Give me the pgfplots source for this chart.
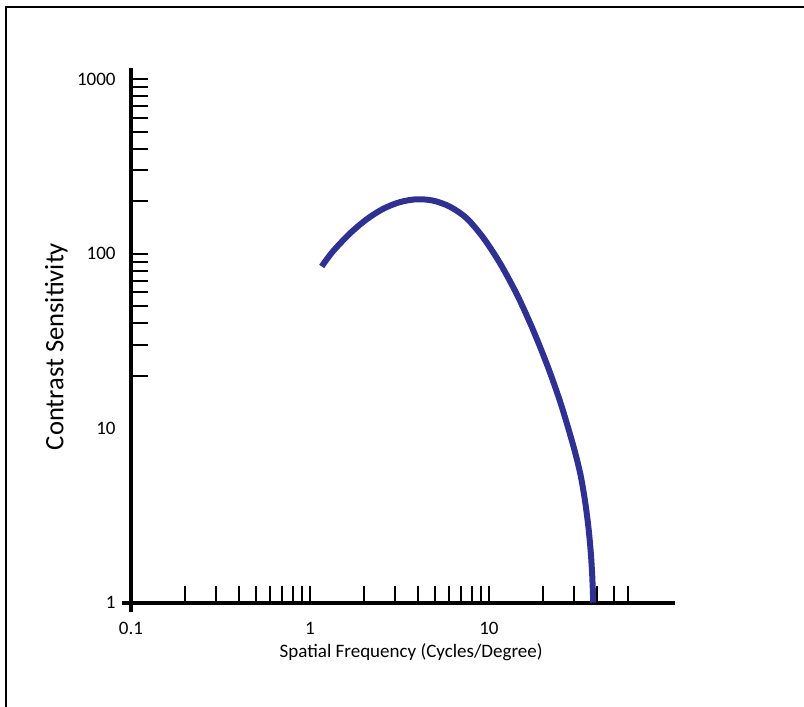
\documentclass[border=0pt]{standalone}
\usepackage{pgfplots}
\pgfplotsset{compat=1.18}
\usepackage{fontspec}
\setmainfont{Carlito}
\definecolor{csfblue}{RGB}{46,49,146}
\begin{document}
\begin{tikzpicture}
\path[use as bounding box] (0,0) rectangle (402pt,353.5pt);
\draw[line width=1pt] (3pt,0) -- (3pt,350pt) -- (402pt,350pt);
\begin{axis}[
  at={(65.5pt,52.15pt)}, anchor=south west,
  scale only axis, width=272pt, height=267.35pt,
  xmode=log, ymode=log,
  xmin=0.1, xmax=109.6, ymin=1, ymax=1159,
  axis lines=left,
  axis line style={-, line width=2pt, black},
  x axis line style={shorten <=-4.5pt},
  y axis line style={shorten <=-4.5pt},
  tick align=inside,
  major tick length=8.5pt, minor tick length=8.5pt,
  every tick/.style={black, line width=1pt},
  every major y tick/.style={draw=none},
  xtick={0.1,1,10}, xticklabels={0.1,1,10},
  minor xtick={0.2,0.3,0.4,0.5,0.6,0.7,0.8,0.9,2,3,4,5,6,7,8,9,20,30,40,50,60},
  ytick={1,10,100,1000}, yticklabels={1,10,100,1000},
  minor ytick={20,30,40,50,60,70,80,90,100,200,300,400,500,600,700,800,900,1000},
  tick label style={font=\fontsize{9.5}{11}\selectfont},
  xticklabel style={anchor=north, inner sep=0pt, yshift=-9.5pt},
  yticklabel style={anchor=east, inner sep=0pt, xshift=-7.5pt},
  xlabel={Spatial Frequency (Cycles/Degree)},
  xlabel style={at={(axis description cs:0.515,0)}, anchor=base, yshift=-27.65pt, font=\fontsize{9.5}{11}\selectfont},
  ylabel={Contrast Sensitivity},
  ylabel style={at={(axis description cs:0,0.479)}, anchor=base, yshift=33.75pt, font=\fontsize{13.3}{15}\selectfont},
  clip=false,
]
\addplot[csfblue, line width=3pt, smooth] coordinates {
(1.163,84.5) (1.344,103.1) (1.673,130.6) (2.074,157.4) (2.568,180.9)
(3.184,197.5) (3.945,205.0) (4.885,201.3) (6.055,185.9) (7.508,159.6)
(9.294,123.5) (11.52,88.4) (14.28,58.9) (16.94,40.3) (19.27,29.4)
(21.92,20.9) (24.93,14.32) (27.63,10.16) (30.22,7.35) (32.53,5.38)
(34.38,3.87) (35.87,2.78) (37.0,2.0) (37.77,1.44) (38.3,1.0)
};
\end{axis}
\end{tikzpicture}
\end{document}
